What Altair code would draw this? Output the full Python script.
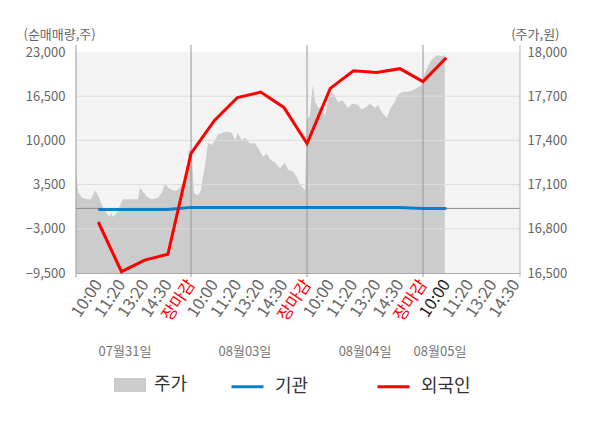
import altair as alt
import pandas as pd

FONT = "Noto Sans CJK KR"

# ---- x axis: each trading day = 5 slots (10:00, 11:20, 13:20, 14:30, 장마감)
tick_slots = list(range(1, 20))
tick_texts = ["10:00", "11:20", "13:20", "14:30", "장마감",
              "10:00", "11:20", "13:20", "14:30", "장마감",
              "10:00", "11:20", "13:20", "14:30", "장마감",
              "10:00", "11:20", "13:20", "14:30"]
close_slots = [5, 10, 15]
current_slot = 16
date_texts = ["07월31일", "08월03일", "08월04일", "08월05일"]
date_slots = [2.15, 7.32, 12.5, 15.73]

# ---- net buying (left axis)
flow_slots = list(range(1, 17))
foreign = [-2000, -9300, -7600, -6750, 8100, 12900, 16300, 17100, 14850, 9550,
           17650, 20250, 20000, 20550, 18650, 22150]
institution = [-150, -150, -150, -150, 150, 150, 150, 150, 150, 150,
               150, 150, 150, 150, 0, 0]

# ---- stock price (right axis)
price_slots = [
    0.04, 0.08, 0.13, 0.30, 0.51, 0.69, 0.86, 0.94, 1.07, 1.16, 1.33, 1.50, 1.55, 1.63,
    1.81, 1.94, 2.06, 2.28, 2.50, 2.71, 2.80, 2.93, 3.15, 3.32, 3.58, 3.75, 3.88, 4.01,
    4.22, 4.39, 4.52, 4.74, 4.82, 4.91, 4.95,
    5.04, 5.13, 5.30, 5.43, 5.51, 5.60, 5.73, 5.90, 6.03, 6.16, 6.33, 6.55, 6.76, 6.89,
    7.02, 7.19, 7.32, 7.54, 7.75, 7.88, 8.10, 8.27, 8.40, 8.62, 8.83, 9.05, 9.18, 9.39,
    9.56, 9.69, 9.82, 9.91,
    10.00, 10.12, 10.25, 10.34, 10.47, 10.64, 10.77, 10.90, 11.07, 11.20, 11.33, 11.54,
    11.76, 11.97, 12.19, 12.36, 12.58, 12.71, 12.93, 13.06, 13.23, 13.45, 13.57, 13.70,
    13.92, 14.13, 14.35, 14.57, 14.78, 14.95,
    15.04, 15.17, 15.30, 15.43, 15.64, 15.81, 15.94]
price = [
    17230, 17140, 17050, 17010, 17000, 17000, 17060, 17040, 17000, 16960, 16910, 16880, 16910, 16880,
    16910, 16960, 17000, 17000, 17000, 17000, 17080, 17050, 17010, 17000, 17010, 17050, 17110, 17080,
    17060, 17060, 17080, 17130, 17180, 17350, 17330,
    17270, 17040, 17030, 17060, 17150, 17230, 17380, 17370, 17400, 17440, 17450, 17460, 17450, 17400,
    17450, 17400, 17420, 17380, 17380, 17350, 17290, 17310, 17270, 17250, 17210, 17250, 17200, 17190,
    17150, 17100, 17080, 17060,
    17530, 17570, 17780, 17670, 17620, 17630, 17560, 17670, 17730, 17700, 17660, 17670,
    17620, 17650, 17640, 17610, 17630, 17650, 17620, 17640, 17590, 17550, 17610, 17640,
    17710, 17730, 17730, 17740, 17760, 17780,
    17840, 17890, 17930, 17960, 17980, 17970, 17980]

left_ticks = [-9500, -3000, 3500, 10000, 16500, 23000]
right_ticks = [16500, 16800, 17100, 17400, 17700, 18000]
grid_values = [-3000, 3500, 10000, 16500]

W, H = 444, 221

xscale = alt.Scale(domain=[0.04, 19.18], nice=False, zero=False)
lscale = alt.Scale(domain=[-9500, 23000], nice=False, zero=False)
rscale = alt.Scale(domain=[16500, 18000], nice=False, zero=False)

label_expr = "[" + ",".join("'%s'" % t for t in [""] + tick_texts) + "][datum.value]"
close_test = " || ".join("datum.value == %d" % c for c in close_slots)

x_axis = alt.Axis(
    values=tick_slots, labelExpr=label_expr, labelAngle=-56, labelAlign="right",
    labelBaseline="middle", labelPadding=8, labelFontSize=16.5, labelFont=FONT,
    labelColor={"condition": [{"test": close_test, "value": "#ff0000"},
                              {"test": "datum.value == %d" % current_slot, "value": "#222222"}],
                "value": "#666666"},
    ticks=False, grid=False, domain=True, domainColor="#aaaaaa", title=None,
    labelOverlap=False, labelFlush=False)

price_df = pd.DataFrame({"x": price_slots, "p": price, "series": "주가"})
inst_df = pd.DataFrame({"x": flow_slots, "v": institution, "series": "기관"})
for_df = pd.DataFrame({"x": flow_slots, "v": foreign, "series": "외국인"})

fill_legend = alt.Legend(
    title=None, orient="none", legendX=38, legendY=317,
    symbolType="M-1,-0.4375H1V0.4375H-1Z", symbolSize=1024, symbolStrokeWidth=0,
    labelFontSize=18, labelColor="#333333", labelOffset=8, padding=0, labelFont=FONT)
stroke_legend = alt.Legend(
    title=None, orient="none", direction="horizontal", legendX=154, legendY=317,
    symbolType="stroke", symbolSize=1024, symbolStrokeWidth=3,
    labelFontSize=18, labelColor="#333333", labelOffset=10, columnPadding=62,
    padding=0, labelFont=FONT)
stroke_scale = alt.Scale(domain=["기관", "외국인"], range=["#0a7fce", "#ff0000"])


def X():
    return alt.X("x:Q", scale=xscale, axis=x_axis)


area = alt.Chart(price_df).mark_area(opacity=1).encode(
    x=X(),
    y=alt.Y("p:Q", scale=rscale, axis=alt.Axis(
        orient="right", values=right_ticks, format=",d", labelColor="#666666",
        labelFontSize=13, labelFont=FONT, labelPadding=7, domain=False, ticks=False,
        grid=False, title="(주가,원)", titleAngle=0, titleAlign="right",
        titleBaseline="middle", titleX=39, titleY=-18, titleColor="#666666",
        titleFontSize=13, titleFont=FONT, titleFontWeight="normal")),
    y2=alt.datum(16500),
    fill=alt.Fill("series:N", scale=alt.Scale(domain=["주가"], range=["#cccccc"]),
                  legend=fill_legend),
)

grid = alt.Chart(pd.DataFrame({"g": grid_values})).mark_rule(
    color="#dddddd", strokeWidth=1).encode(
    y=alt.Y("g:Q", scale=lscale, axis=None))

zero = alt.Chart(pd.DataFrame({"z": [0]})).mark_rule(
    color="#8a8a8a", strokeWidth=1).encode(
    y=alt.Y("z:Q", scale=lscale, axis=None))

dividers = alt.Chart(pd.DataFrame({"x": close_slots})).mark_rule(
    color="#999999", strokeWidth=1).encode(
    x=X(), y=alt.value(-7), y2=alt.value(H + 4))

left_edge = alt.Chart(pd.DataFrame({"e": [0]})).mark_rule(
    color="#999999", strokeWidth=1).encode(
    x=alt.value(0), y=alt.value(-7), y2=alt.value(H + 4))
right_edge = alt.Chart(pd.DataFrame({"e": [0]})).mark_rule(
    color="#bbbbbb", strokeWidth=1).encode(
    x=alt.value(W), y=alt.value(-7), y2=alt.value(H + 4))

blue = alt.Chart(inst_df).mark_line(strokeWidth=3).encode(
    x=X(),
    y=alt.Y("v:Q", scale=lscale, axis=alt.Axis(
        orient="left", values=left_ticks, format=",d", labelColor="#666666",
        labelFontSize=13, labelFont=FONT, labelPadding=11, domain=False, ticks=False,
        grid=False, title="(순매매량,주)", titleAngle=0, titleAlign="left",
        titleBaseline="middle", titleX=-53, titleY=-18, titleColor="#666666",
        titleFontSize=13, titleFont=FONT, titleFontWeight="normal")),
    stroke=alt.Stroke("series:N", scale=stroke_scale, legend=stroke_legend),
)

red = alt.Chart(for_df).mark_line(strokeWidth=3).encode(
    x=X(),
    y=alt.Y("v:Q", scale=lscale, axis=None),
    stroke=alt.Stroke("series:N", scale=stroke_scale, legend=stroke_legend),
)

dates = alt.Chart(pd.DataFrame({"x": date_slots, "t": date_texts})).mark_text(
    fontSize=13, color="#777777", font=FONT, align="center", baseline="middle").encode(
    x=X(), y=alt.value(300), text="t:N")

chart = alt.layer(area, grid, zero, dividers, left_edge, right_edge, blue, red, dates).resolve_scale(
    y="independent"
).properties(
    width=W, height=H,
    autosize=alt.AutoSizeParams(type="none"),
    padding={"left": 68, "top": 44, "right": 72, "bottom": 147},
).configure(font=FONT).configure_view(strokeWidth=0, fill="#f4f4f4").configure_axisX(
    labelOverlap=False
)

chart.save("out.html", embed_options={"renderer": "svg", "actions": False})
